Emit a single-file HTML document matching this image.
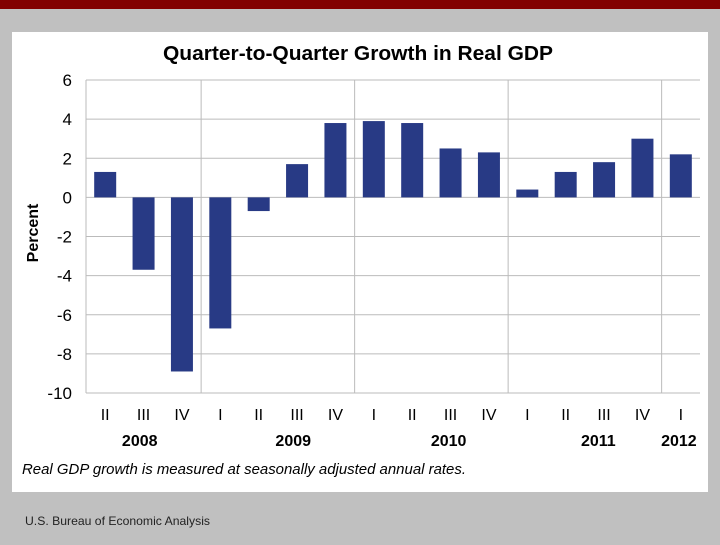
<!DOCTYPE html>
<html><head><meta charset="utf-8"><style>
body{margin:0;width:720px;height:540px;background:#c0c0c0;overflow:hidden;font-family:"Liberation Sans",sans-serif}
</style></head><body>
<svg width="720" height="540">
<rect x="0" y="0" width="720" height="9" fill="#820000"/>
<rect x="12" y="32" width="696" height="460" fill="#fff"/>
<text x="358" y="60" text-anchor="middle" font-size="20" font-weight="bold" textLength="390" lengthAdjust="spacingAndGlyphs">Quarter-to-Quarter Growth in Real GDP</text>
<text transform="translate(38,233) rotate(-90)" text-anchor="middle" font-size="16" font-weight="bold">Percent</text>
<g id="grid"></g><g id="bars"></g><g id="labels"></g>
<text x="22" y="474" font-size="15" font-style="italic" textLength="444" lengthAdjust="spacingAndGlyphs">Real GDP growth is measured at seasonally adjusted annual rates.</text>
<text x="25" y="525" font-size="12" fill="#222" textLength="185" lengthAdjust="spacingAndGlyphs">U.S. Bureau of Economic Analysis</text>
</svg>
<script>
const quarters=["II","III","IV","I","II","III","IV","I","II","III","IV","I","II","III","IV","I"];
const growth=[1.3,-3.7,-8.9,-6.7,-0.7,1.7,3.8,3.9,3.8,2.5,2.3,0.4,1.3,1.8,3.0,2.2];
const yTicks=[6,4,2,0,-2,-4,-6,-8,-10];
const years=["2008","2009","2010","2011","2012"];
const yearCenters=[0.9,4.9,8.95,12.85,14.95];
const yearBreaks=[3,7,11,15];
const NS="http://www.w3.org/2000/svg";
const L=86,R=700,T=80,B=393,yMax=6,yMin=-10;
const band=(R-L)/quarters.length;
const y=v=>T+(yMax-v)/(yMax-yMin)*(B-T);
const xc=i=>L+band*(i+0.5);
function mk(tag,attrs,parent,text){const e=document.createElementNS(NS,tag);for(const k in attrs)e.setAttribute(k,attrs[k]);if(text!==undefined)e.textContent=text;document.getElementById(parent).appendChild(e);return e;}
yTicks.forEach(t=>{
 const g=mk('line',{x1:L,x2:R,y1:y(t),y2:y(t),stroke:'#bbb','stroke-width':1},'grid');
 
 
 const tx=mk('text',{x:72,y:y(t)+6,'text-anchor':'end','font-size':17},'labels',String(t));
 
 
});
mk('line',{x1:L,x2:L,y1:T,y2:B,stroke:'#bbb'},'grid');
yearBreaks.forEach(b=>{
 const l=mk('line',{x1:L+band*b,x2:L+band*b,y1:T,y2:B,stroke:'#bbb'},'grid');
 
 
});
growth.forEach((v,i)=>{
 const r=mk('rect',{x:xc(i)-11,width:22,y:Math.min(y(v),y(0)),height:Math.abs(y(v)-y(0)),fill:'#283a85'},'bars');
 
 
});
quarters.forEach((q,i)=>{
 const t=mk('text',{x:xc(i),y:420,'text-anchor':'middle','font-size':16},'labels',q);
 
 
});
years.forEach((yr,i)=>{
 const t=mk('text',{x:L+band*(yearCenters[i]+0.5),y:446,'text-anchor':'middle','font-size':16,'font-weight':'bold'},'labels',yr);
 
 
});
</script>
</body></html>
